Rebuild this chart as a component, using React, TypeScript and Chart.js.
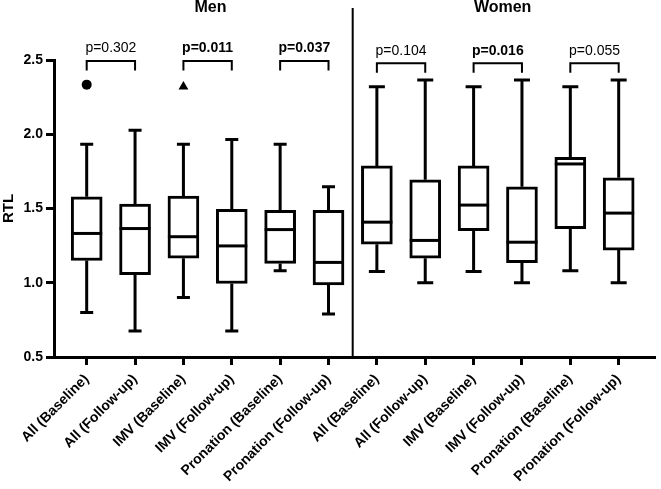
import React, { useEffect, useRef } from 'react';
import { Chart, registerables } from 'chart.js';

Chart.register(...registerables);

const FONT = "'Liberation Sans', Arial, Helvetica, sans-serif";

const categories = [
  'All (Baseline)', 'All (Follow-up)', 'IMV (Baseline)', 'IMV (Follow-up)', 'Pronation (Baseline)', 'Pronation (Follow-up)',
  'All (Baseline)', 'All (Follow-up)', 'IMV (Baseline)', 'IMV (Follow-up)', 'Pronation (Baseline)', 'Pronation (Follow-up)',
];
const groups = ['Men', 'Women'];

const whiskerMin = [0.80, 0.675, 0.90, 0.675, 1.08, 0.79, 1.075, 1.0, 1.075, 1.0, 1.08, 1.0];
const q1 = [1.15, 1.055, 1.165, 0.995, 1.13, 0.985, 1.26, 1.165, 1.35, 1.135, 1.365, 1.22];
const median = [1.332, 1.365, 1.31, 1.248, 1.358, 1.137, 1.408, 1.285, 1.523, 1.273, 1.80, 1.469];
const q3 = [1.579, 1.529, 1.583, 1.494, 1.487, 1.487, 1.787, 1.693, 1.787, 1.646, 1.844, 1.707];
const whiskerMax = [1.933, 2.027, 1.933, 1.965, 1.933, 1.646, 2.32, 2.365, 2.32, 2.365, 2.32, 2.365];

const outlierCircle = [{ x: 0, y: 2.334 }];
const outlierTriangle = [{ x: 2, y: 2.32 }];

const comparisons = [[0, 1], [2, 3], [4, 5], [6, 7], [8, 9], [10, 11]];
const pLabels = ['p=0.302', 'p=0.011', 'p=0.037', 'p=0.104', 'p=0.016', 'p=0.055'];
const pBold = [false, true, true, false, true, false];
const bracketLevel = [2.493, 2.493, 2.493, 2.478, 2.478, 2.478];

const yTicks = [0.5, 1.0, 1.5, 2.0, 2.5];

const boxPlugin = {
  id: 'boxExtras',
  beforeDatasetsDraw(chart: any) {
    const { ctx, scales } = chart;
    const x = scales.x;
    const y = scales.y;
    ctx.save();
    ctx.strokeStyle = '#000';
    ctx.lineWidth = 3;
    for (let i = 0; i < categories.length; i++) {
      const cx = x.getPixelForValue(i);
      const cap = i < 6 ? 13 : 16;
      const yMax = y.getPixelForValue(whiskerMax[i]);
      const yMin = y.getPixelForValue(whiskerMin[i]);
      ctx.beginPath();
      ctx.moveTo(cx, y.getPixelForValue(q3[i]));
      ctx.lineTo(cx, yMax);
      ctx.moveTo(cx - cap / 2, yMax);
      ctx.lineTo(cx + cap / 2, yMax);
      ctx.moveTo(cx, y.getPixelForValue(q1[i]));
      ctx.lineTo(cx, yMin);
      ctx.moveTo(cx - cap / 2, yMin);
      ctx.lineTo(cx + cap / 2, yMin);
      ctx.stroke();
    }
    ctx.restore();
  },
  afterDatasetsDraw(chart: any) {
    const { ctx, scales, chartArea } = chart;
    const x = scales.x;
    const y = scales.y;
    ctx.save();
    ctx.strokeStyle = '#000';
    ctx.fillStyle = '#000';
    ctx.lineWidth = 3;
    const half = 15.5;
    for (let i = 0; i < categories.length; i++) {
      const cx = x.getPixelForValue(i);
      const my = y.getPixelForValue(median[i]);
      ctx.beginPath();
      ctx.moveTo(cx - half, my);
      ctx.lineTo(cx + half, my);
      ctx.stroke();
    }
    const dx = x.getPixelForValue(5.5);
    ctx.lineWidth = 2;
    ctx.beginPath();
    ctx.moveTo(dx, 8);
    ctx.lineTo(dx, chartArea.bottom);
    ctx.stroke();
    ctx.font = `bold 16px ${FONT}`;
    ctx.textAlign = 'center';
    ctx.textBaseline = 'middle';
    ctx.fillText(groups[0], x.getPixelForValue(2.56), 8);
    ctx.fillText(groups[1], x.getPixelForValue(8.6), 8);
    ctx.lineWidth = 2;
    comparisons.forEach((pair, k) => {
      const x1 = x.getPixelForValue(pair[0]);
      const x2 = x.getPixelForValue(pair[1]);
      const top = y.getPixelForValue(bracketLevel[k]);
      ctx.beginPath();
      ctx.moveTo(x1, top + 9.5);
      ctx.lineTo(x1, top);
      ctx.lineTo(x2, top);
      ctx.lineTo(x2, top + 9.5);
      ctx.stroke();
      ctx.font = `${pBold[k] ? 'bold ' : ''}14px ${FONT}`;
      ctx.fillText(pLabels[k], (x1 + x2) / 2, top - 12.5);
    });
    ctx.restore();
  },
};

export default function App() {
  const ref = useRef<HTMLCanvasElement | null>(null);

  useEffect(() => {
    if (!ref.current) return;
    const chart = new Chart(ref.current, {
      type: 'bar',
      data: {
        datasets: [
          {
            type: 'bar',
            data: categories.map((_, i) => ({ x: i, y: [q1[i], q3[i]] })) as any,
            backgroundColor: '#ffffff',
            borderColor: '#000000',
            borderWidth: 3,
            borderSkipped: false,
            barThickness: 31,
          } as any,
          {
            type: 'scatter',
            data: outlierCircle,
            pointStyle: 'circle',
            pointRadius: 5,
            backgroundColor: '#000',
            borderColor: '#000',
            borderWidth: 0,
          } as any,
          {
            type: 'scatter',
            data: outlierTriangle,
            pointStyle: 'triangle',
            pointRadius: 5.7,
            backgroundColor: '#000',
            borderColor: '#000',
            borderWidth: 0,
          } as any,
        ],
      },
      options: {
        responsive: false,
        animation: false,
        layout: { padding: { top: 60, left: 0, right: 0, bottom: 0 } },
        plugins: {
          legend: { display: false },
          tooltip: { enabled: false },
        },
        scales: {
          x: {
            type: 'linear',
            position: 'bottom',
            offset: false,
            min: -0.676,
            max: 11.757,
            afterBuildTicks: (scale: any) => {
              scale.ticks = categories.map((_, i) => ({ value: i }));
            },
            afterFit: (scale: any) => {
              scale.height = 132;
            },
            grid: {
              display: true,
              offset: false,
              drawOnChartArea: false,
              drawTicks: true,
              tickLength: 8,
              tickWidth: 3,
              tickColor: '#000',
            },
            border: { display: true, width: 3, color: '#000' },
            ticks: {
              autoSkip: false,
              minRotation: 45,
              maxRotation: 45,
              padding: 6,
              color: '#000',
              font: { family: FONT, size: 14, weight: 'bold' },
              callback: (_v: any, index: number) => categories[index],
            },
          },
          y: {
            type: 'linear',
            min: 0.5,
            max: 2.5,
            afterBuildTicks: (scale: any) => {
              scale.ticks = yTicks.map((v) => ({ value: v }));
            },
            afterFit: (scale: any) => {
              scale.width = 54;
            },
            grid: {
              display: true,
              drawOnChartArea: false,
              drawTicks: true,
              tickLength: 8,
              tickWidth: 3,
              tickColor: '#000',
            },
            border: { display: true, width: 3, color: '#000' },
            ticks: {
              padding: 3,
              color: '#000',
              font: { family: FONT, size: 14, weight: 'bold' },
              callback: (v: any) => Number(v).toFixed(1),
            },
            title: {
              display: true,
              text: 'RTL',
              color: '#000',
              font: { family: FONT, size: 15, weight: 'bold' },
              padding: { top: 0, bottom: 0 },
            },
          },
        },
      } as any,
      plugins: [boxPlugin],
    });
    return () => chart.destroy();
  }, []);

  return (
    <div style={{ position: 'fixed', left: 0, top: 0, width: 661, height: 489, background: '#fff' }}>
      <canvas ref={ref} width={661} height={489} style={{ display: 'block' }} />
    </div>
  );
}
